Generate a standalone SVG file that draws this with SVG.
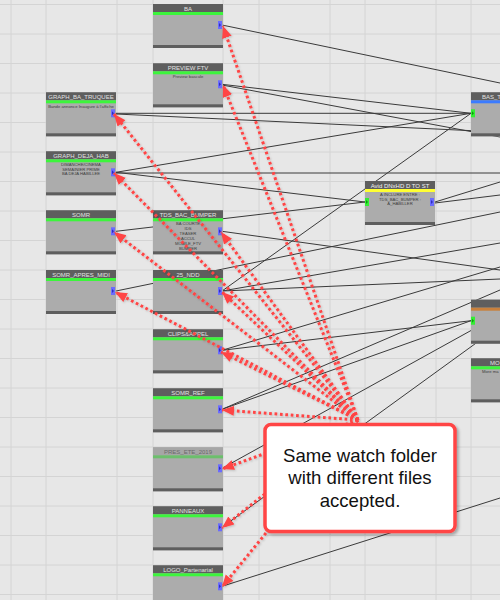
<svg xmlns="http://www.w3.org/2000/svg" width="500" height="600" viewBox="0 0 500 600">
<defs>
<style>
.grid line{stroke:#d4d4d4;stroke-width:1}
.cn path{fill:none;stroke:#3a3a3a;stroke-width:1}
.bd{fill:#acacac}
.hd{fill:#5e5e5e}
.gb{fill:#3cf53c}
.t{font-family:"Liberation Sans",Arial,sans-serif;font-size:6px;fill:#e2e2e2;text-anchor:middle}
.s{font-family:"Liberation Sans",Arial,sans-serif;font-size:4.2px;fill:#3c3c3c;text-anchor:middle}
.bp{fill:#6b6bff}
.bt{fill:#2f2fc0}
.gp{fill:#33ee33}
.gt{fill:#119911}
.ar line{stroke:#ff4444;stroke-width:3;stroke-dasharray:2.7 2.7;fill:none}
.co{font-family:"Liberation Sans",Arial,sans-serif;font-size:18.6px;fill:#111;text-anchor:middle}
</style>
<marker id="ah" markerUnits="userSpaceOnUse" markerWidth="13" markerHeight="11" refX="12" refY="5" orient="auto">
<path d="M0,0 L12,5 L0,10 Z" fill="#ff4444"/>
</marker>
<filter id="sh" x="-10%" y="-10%" width="130%" height="130%">
<feDropShadow dx="2" dy="2" stdDeviation="1.5" flood-color="#000" flood-opacity="0.3"/>
</filter>
<filter id="ash" x="-10%" y="-10%" width="120%" height="120%">
<feDropShadow dx="1" dy="1" stdDeviation="1" flood-color="#000" flood-opacity="0.2"/>
</filter>
</defs>
<rect width="500" height="600" fill="#e7e7e7"/>
<g class="grid">
<line x1="11" y1="0" x2="11" y2="600"/><line x1="46" y1="0" x2="46" y2="600"/><line x1="117" y1="0" x2="117" y2="600"/>
<line x1="153" y1="0" x2="153" y2="600"/><line x1="223" y1="0" x2="223" y2="600"/><line x1="259" y1="0" x2="259" y2="600"/>
<line x1="330" y1="0" x2="330" y2="600"/><line x1="365" y1="0" x2="365" y2="600"/><line x1="436" y1="0" x2="436" y2="600"/>
<line x1="471" y1="0" x2="471" y2="600"/>
<line x1="0" y1="4.5" x2="500" y2="4.5"/><line x1="0" y1="34" x2="500" y2="34"/><line x1="0" y1="63.5" x2="500" y2="63.5"/>
<line x1="0" y1="93" x2="500" y2="93"/><line x1="0" y1="122.5" x2="500" y2="122.5"/><line x1="0" y1="152" x2="500" y2="152"/>
<line x1="0" y1="181.5" x2="500" y2="181.5"/><line x1="0" y1="211" x2="500" y2="211"/><line x1="0" y1="240.5" x2="500" y2="240.5"/>
<line x1="0" y1="270" x2="500" y2="270"/><line x1="0" y1="299.5" x2="500" y2="299.5"/><line x1="0" y1="329" x2="500" y2="329"/>
<line x1="0" y1="358.5" x2="500" y2="358.5"/><line x1="0" y1="388" x2="500" y2="388"/><line x1="0" y1="417.5" x2="500" y2="417.5"/>
<line x1="0" y1="447" x2="500" y2="447"/><line x1="0" y1="476.5" x2="500" y2="476.5"/><line x1="0" y1="506" x2="500" y2="506"/>
<line x1="0" y1="535.5" x2="500" y2="535.5"/><line x1="0" y1="565" x2="500" y2="565"/><line x1="0" y1="594.5" x2="500" y2="594.5"/>
</g>
<g id="connectors" class="cn">
<path d="M222,25 L500,83"/>
<path d="M222,84.3 L471,113.3"/>
<path d="M222,85 L500,137"/>
<path d="M116,113.3 L471,113.3"/>
<path d="M116,114 L500,132"/>
<path d="M116,172.3 L471,113.3"/>
<path d="M116,173 L500,173"/>
<path d="M116,172.3 L365,202"/>
<path d="M116,231.3 L365,202"/>
<path d="M116,291 L500,212"/>
<path d="M222,291 L471,113.3"/>
<path d="M222,291 L500,243"/>
<path d="M222,291 L500,279"/>
<path d="M222,231.3 L500,270"/>
<path d="M222,350.3 L471,320.7"/>
<path d="M222,350.3 L500,267"/>
<path d="M222,409.3 L471,320.7"/>
<path d="M222,409.3 L500,290"/>
<path d="M222,468.3 L490,320"/>
<path d="M222,527.3 L490,333"/>
<path d="M222,586.3 L500,498"/>
<path d="M435,202 L500,182"/>
<path d="M435,203 L500,195"/>
</g>
<g id="n_graph_ba_truquee">
<rect x="46" y="92.3" width="70" height="44" class="bd"/><rect x="46" y="92.3" width="70" height="8" class="hd"/><rect x="46" y="100.3" width="70" height="3" class="gb"/><rect x="46" y="133.3" width="70" height="3" class="hd"/>
<text x="81" y="99" class="t">GRAPH_BA_TRUQUEE</text>
<text x="81" y="107.6" class="s">Bande annonce Inaugure à l'affiche</text>
<rect x="111" y="109.3" width="4" height="8" class="bp"/><polygon points="112,111.3 114,113.3 112,115.3" class="bt"/>
</g>
<g id="n_graph_deja_hab">
<rect x="46" y="151.3" width="70" height="44" class="bd"/><rect x="46" y="151.3" width="70" height="8" class="hd"/><rect x="46" y="159.3" width="70" height="3" class="gb"/><rect x="46" y="192.3" width="70" height="3" class="hd"/>
<text x="81" y="158" class="t">GRAPH_DEJA_HAB</text>
<text x="81" y="165.8" class="s">DIMANCHE/CINEMA</text><text x="81" y="170.5" class="s">SEMAINIER PRIME</text><text x="81" y="175.2" class="s">BA DEJA HABILLEE</text>
<rect x="111" y="168.3" width="4" height="8" class="bp"/><polygon points="112,170.3 114,172.3 112,174.3" class="bt"/>
</g>
<g id="n_somr">
<rect x="46" y="210.3" width="70" height="44" class="bd"/><rect x="46" y="210.3" width="70" height="8" class="hd"/><rect x="46" y="218.3" width="70" height="3" class="gb"/><rect x="46" y="251.3" width="70" height="3" class="hd"/>
<text x="81" y="217" class="t">SOMR</text>
<rect x="111" y="227.3" width="4" height="8" class="bp"/><polygon points="112,229.3 114,231.3 112,233.3" class="bt"/>
</g>
<g id="n_somr_apres_midi">
<rect x="46" y="270" width="70" height="44" class="bd"/><rect x="46" y="270" width="70" height="8" class="hd"/><rect x="46" y="278" width="70" height="3" class="gb"/><rect x="46" y="311" width="70" height="3" class="hd"/>
<text x="81" y="276.7" class="t">SOMR_APRES_MIDI</text>
<rect x="111" y="287" width="4" height="8" class="bp"/><polygon points="112,289 114,291 112,293" class="bt"/>
</g>
<g id="n_ba">
<rect x="153" y="4" width="70" height="44" class="bd"/><rect x="153" y="4" width="70" height="8" class="hd"/><rect x="153" y="12" width="70" height="3" class="gb"/><rect x="153" y="45" width="70" height="3" class="hd"/>
<text x="188" y="10.7" class="t">BA</text>
<rect x="218" y="21" width="4" height="8" class="bp"/><polygon points="219,23 221,25 219,27" class="bt"/>
</g>
<g id="n_preview_ftv">
<rect x="153" y="63.3" width="70" height="44" class="bd"/><rect x="153" y="63.3" width="70" height="8" class="hd"/><rect x="153" y="71.3" width="70" height="3" class="gb"/><rect x="153" y="104.3" width="70" height="3" class="hd"/>
<text x="188" y="70" class="t">PREVIEW FTV</text>
<text x="188" y="78.2" class="s">Preview bascule</text>
<rect x="218" y="80.3" width="4" height="8" class="bp"/><polygon points="219,82.3 221,84.3 219,86.3" class="bt"/>
</g>
<g id="n_tds_bac_bumper">
<rect x="153" y="210.3" width="70" height="44" class="bd"/><rect x="153" y="210.3" width="70" height="8" class="hd"/><rect x="153" y="218.3" width="70" height="3" class="gb"/><rect x="153" y="251.3" width="70" height="3" class="hd"/>
<text x="188" y="217" class="t">TDS_BAC_BUMPER</text>
<text x="188" y="224.8" class="s">BA COURTE</text><text x="188" y="229.8" class="s">IDS</text><text x="188" y="234.8" class="s">TEASER</text><text x="188" y="239.8" class="s">ACCUL</text><text x="188" y="244.8" class="s">MOBILE_FTV</text><text x="188" y="249.8" class="s">BUMPER</text>
<rect x="218" y="227.3" width="4" height="8" class="bp"/><polygon points="219,229.3 221,231.3 219,233.3" class="bt"/>
</g>
<g id="n_25_ndd">
<rect x="153" y="270" width="70" height="44" class="bd"/><rect x="153" y="270" width="70" height="8" class="hd"/><rect x="153" y="278" width="70" height="3" class="gb"/><rect x="153" y="311" width="70" height="3" class="hd"/>
<text x="188" y="276.7" class="t">25_NDD</text>
<rect x="218" y="287" width="4" height="8" class="bp"/><polygon points="219,289 221,291 219,293" class="bt"/>
</g>
<g id="n_clips_appel">
<rect x="153" y="329.3" width="70" height="44" class="bd"/><rect x="153" y="329.3" width="70" height="8" class="hd"/><rect x="153" y="337.3" width="70" height="3" class="gb"/><rect x="153" y="370.3" width="70" height="3" class="hd"/>
<text x="188" y="336" class="t">CLIPS&amp;APPEL</text>
<rect x="218" y="346.3" width="4" height="8" class="bp"/><polygon points="219,348.3 221,350.3 219,352.3" class="bt"/>
</g>
<g id="n_somr_ref">
<rect x="153" y="388.3" width="70" height="44" class="bd"/><rect x="153" y="388.3" width="70" height="8" class="hd"/><rect x="153" y="396.3" width="70" height="3" class="gb"/><rect x="153" y="429.3" width="70" height="3" class="hd"/>
<text x="188" y="395" class="t">SOMR_REF</text>
<rect x="218" y="405.3" width="4" height="8" class="bp"/><polygon points="219,407.3 221,409.3 219,411.3" class="bt"/>
</g>
<g id="n_pres_ete_2019">
<rect x="153" y="447.3" width="70" height="44" class="bd"/><rect x="153" y="447.3" width="70" height="8" fill="#a6a6a6"/><rect x="153" y="455.3" width="70" height="3" fill="#6cbf6c"/><rect x="153" y="488.3" width="70" height="3" class="hd"/>
<text x="188" y="454" class="t" style="fill:#6a6a6a">PRES_ETE_2019</text>
<rect x="218" y="464.3" width="4" height="8" class="bp"/><polygon points="219,466.3 221,468.3 219,470.3" class="bt"/>
</g>
<g id="n_panneaux">
<rect x="153" y="506.3" width="70" height="44" class="bd"/><rect x="153" y="506.3" width="70" height="8" class="hd"/><rect x="153" y="514.3" width="70" height="3" class="gb"/><rect x="153" y="547.3" width="70" height="3" class="hd"/>
<text x="188" y="513" class="t">PANNEAUX</text>
<rect x="218" y="523.3" width="4" height="8" class="bp"/><polygon points="219,525.3 221,527.3 219,529.3" class="bt"/>
</g>
<g id="n_logo_partenarial">
<rect x="153" y="565.3" width="70" height="44" class="bd"/><rect x="153" y="565.3" width="70" height="8" class="hd"/><rect x="153" y="573.3" width="70" height="3" class="gb"/>
<text x="188" y="572" class="t">LOGO_Partenarial</text>
<rect x="218" y="582.3" width="4" height="8" class="bp"/><polygon points="219,584.3 221,586.3 219,588.3" class="bt"/>
</g>
<g id="n_avid">
<rect x="365" y="181" width="70" height="44" class="bd"/><rect x="365" y="181" width="70" height="8" class="hd"/><rect x="365" y="189" width="70" height="3" fill="#ffff33"/><rect x="365" y="222" width="70" height="3" class="hd"/>
<text x="400" y="187.7" class="t" style="fill:#f2f2f2">Avid DNxHD D TO ST</text>
<text x="400" y="195.8" class="s">A INCLURE ENTRE :</text><text x="400" y="200.6" class="s">TDS_BAC_BUMPER :</text><text x="400" y="205.4" class="s">A_HABILLER</text>
<rect x="365" y="198" width="4" height="8" class="gp"/><polygon points="366,200 368,202 366,204" class="gt"/>
<rect x="430" y="198" width="4" height="8" class="bp"/><polygon points="431,200 433,202 431,204" class="bt"/>
</g>
<g id="n_bas_t">
<rect x="471" y="92.3" width="70" height="44" class="bd"/><rect x="471" y="92.3" width="70" height="8" class="hd"/><rect x="471" y="100.3" width="70" height="3" fill="#3b7bff"/><rect x="471" y="133.3" width="70" height="3" class="hd"/>
<text x="482" y="99" class="t" style="text-anchor:start">BAS_T</text>
<rect x="471" y="109.3" width="4" height="8" class="gp"/><polygon points="472,111.3 474,113.3 472,115.3" class="gt"/>
</g>
<g id="n_orange">
<rect x="471" y="299.7" width="70" height="44" class="bd"/><rect x="471" y="299.7" width="70" height="8" class="hd"/><rect x="471" y="307.7" width="70" height="3" fill="#c8803c"/><rect x="471" y="340.7" width="70" height="3" class="hd"/>
<rect x="471" y="316.7" width="4" height="8" class="gp"/><polygon points="472,318.7 474,320.7 472,322.7" class="gt"/>
</g>
<g id="n_mo">
<rect x="471" y="358.3" width="70" height="44" class="bd"/><rect x="471" y="358.3" width="70" height="8" class="hd"/><rect x="471" y="366.3" width="70" height="3" class="gb"/><rect x="471" y="399.3" width="70" height="3" class="hd"/>
<text x="490" y="365" class="t" style="text-anchor:start">MO</text>
<text x="482" y="372.5" class="s" style="text-anchor:start">More ma</text>
</g>
<g id="arrows" class="ar" filter="url(#ash)">
<line x1="358" y1="420" x2="223" y2="26" marker-end="url(#ah)"/>
<line x1="358" y1="420" x2="223" y2="85" marker-end="url(#ah)"/>
<line x1="358" y1="420" x2="114" y2="114" marker-end="url(#ah)"/>
<line x1="358" y1="420" x2="114" y2="173" marker-end="url(#ah)"/>
<line x1="358" y1="420" x2="114" y2="232" marker-end="url(#ah)"/>
<line x1="358" y1="420" x2="115" y2="292" marker-end="url(#ah)"/>
<line x1="358" y1="420" x2="221" y2="232" marker-end="url(#ah)"/>
<line x1="358" y1="420" x2="222" y2="292" marker-end="url(#ah)"/>
<line x1="358" y1="420" x2="221" y2="352" marker-end="url(#ah)"/>
<line x1="358" y1="420" x2="222" y2="410" marker-end="url(#ah)"/>
<line x1="358" y1="420" x2="222" y2="469" marker-end="url(#ah)"/>
<line x1="358" y1="420" x2="222" y2="528" marker-end="url(#ah)"/>
<line x1="358" y1="420" x2="222" y2="587" marker-end="url(#ah)"/>
</g>
<g id="callout">
<rect x="265" y="424.5" width="190" height="107" rx="6" fill="#ffffff" stroke="#ff4444" stroke-width="3.5" filter="url(#sh)"/>
<text x="360" y="462" class="co">Same watch folder</text>
<text x="360" y="484.3" class="co">with different files</text>
<text x="360" y="506.6" class="co">accepted.</text>
</g>
</svg>
